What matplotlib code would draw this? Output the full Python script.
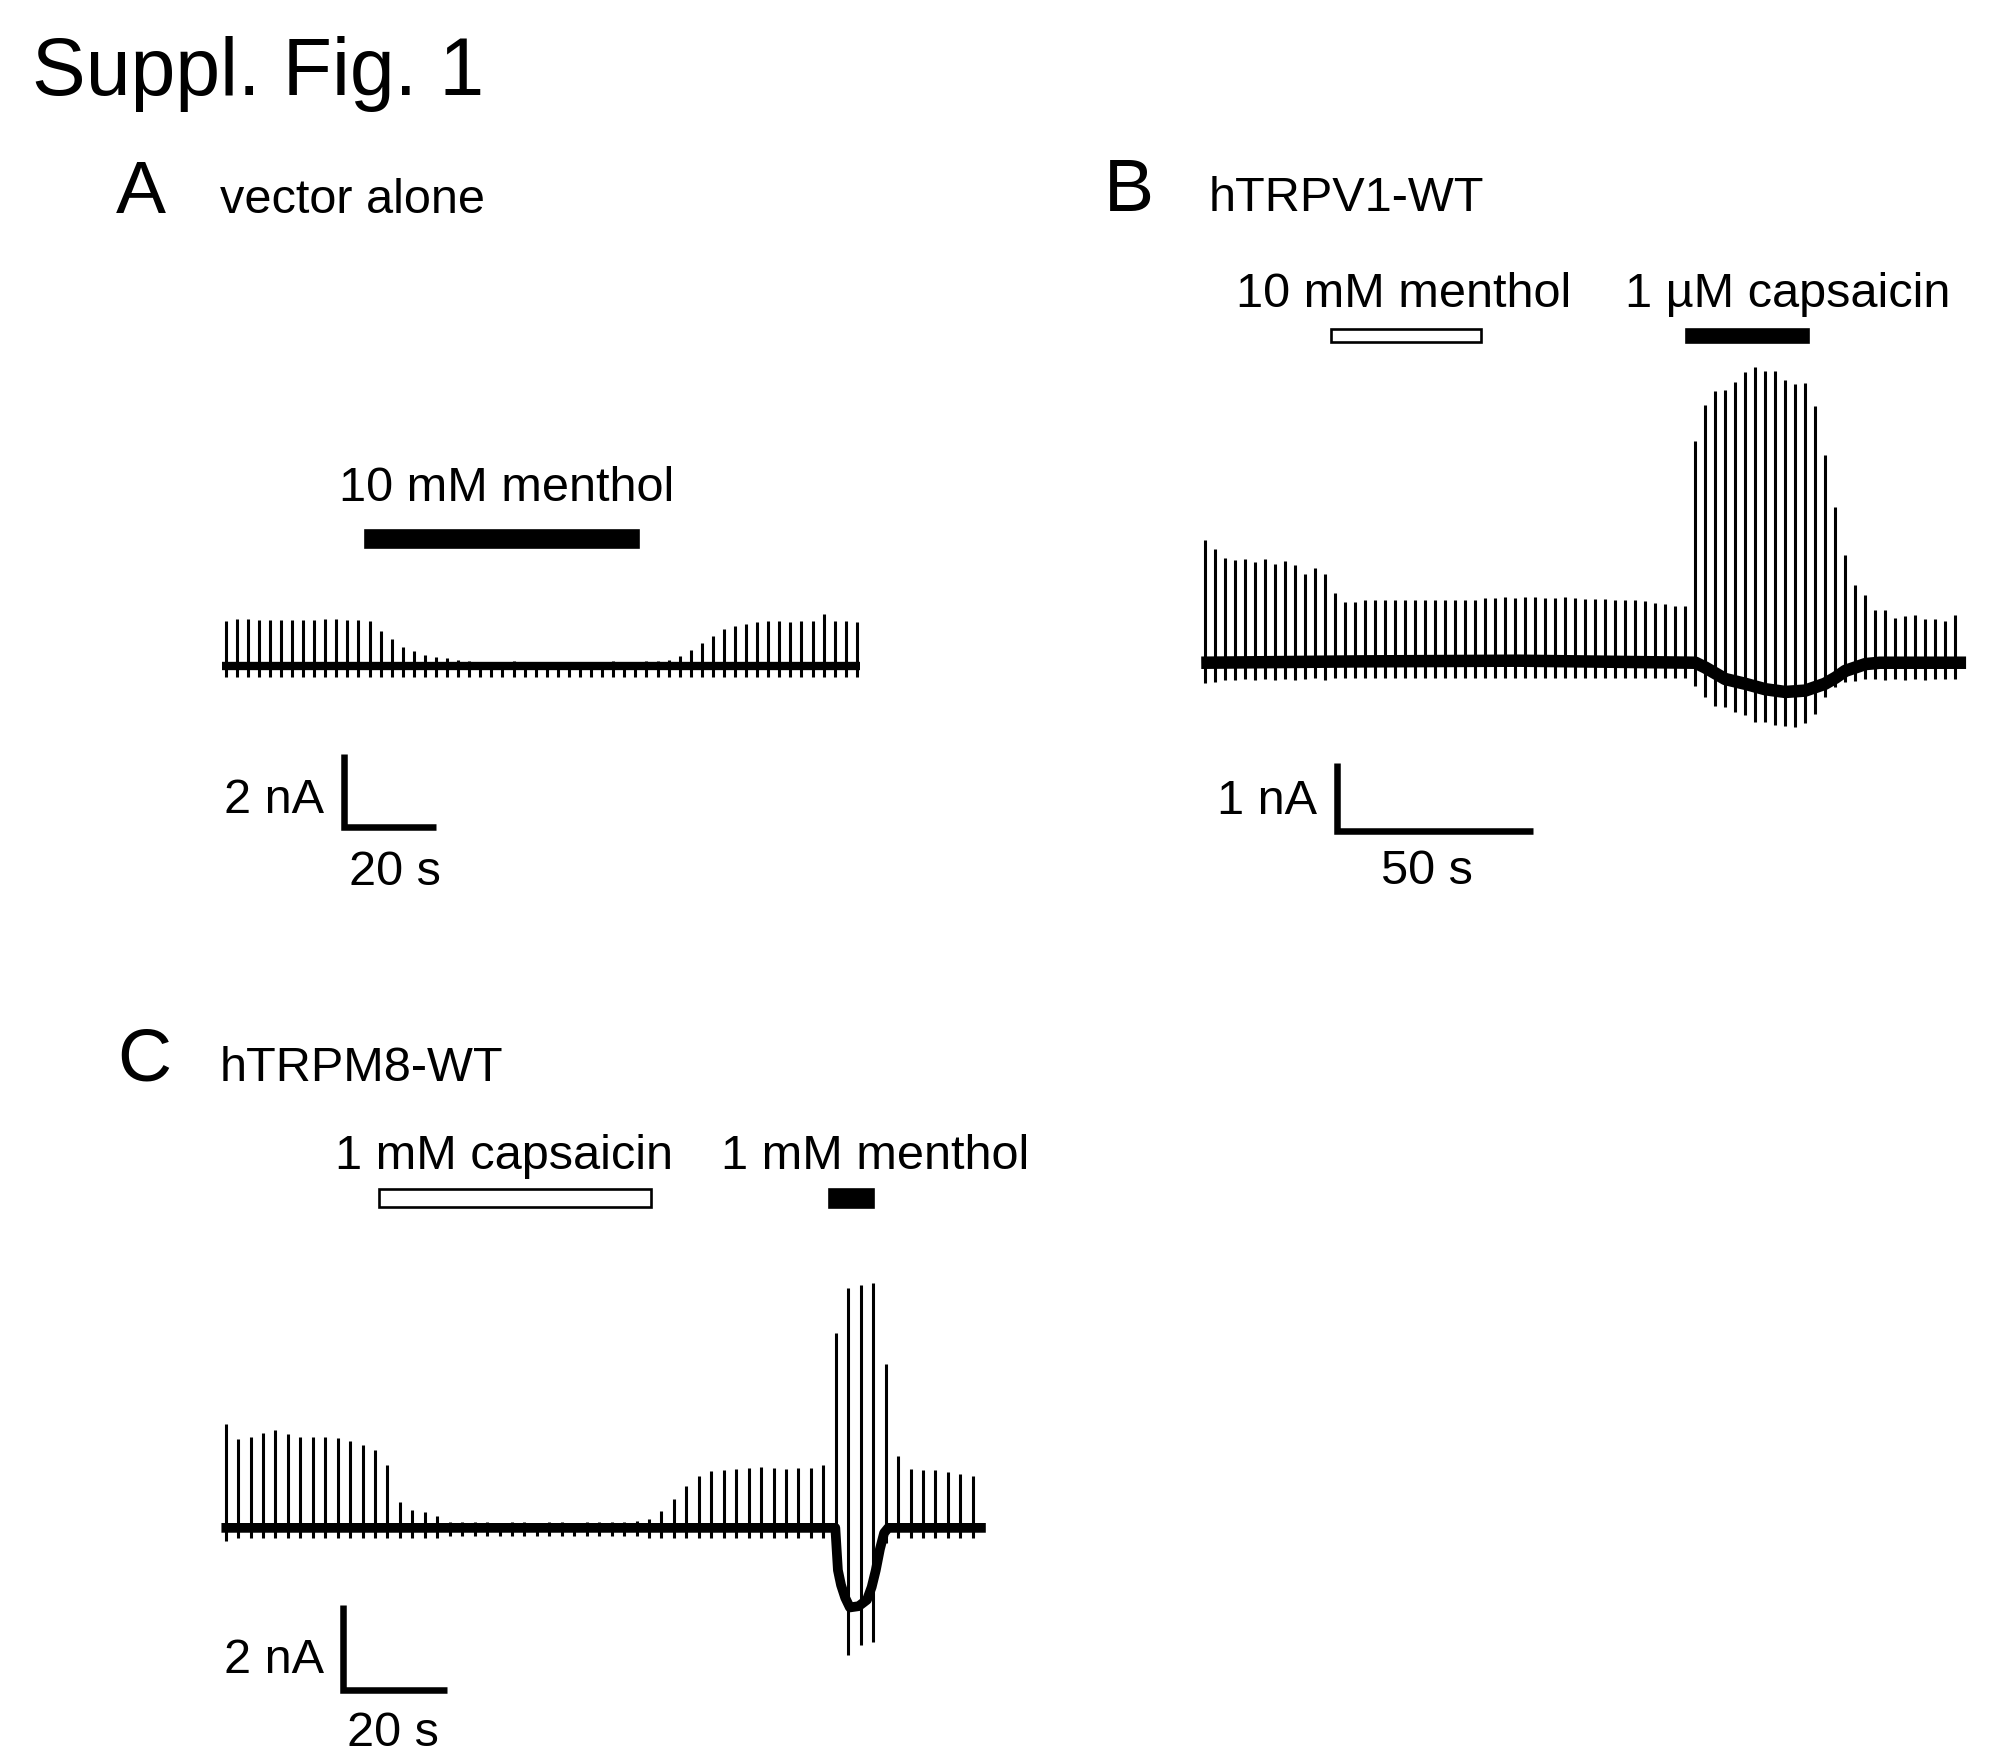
import numpy as np
import matplotlib
matplotlib.use("Agg")
import matplotlib.pyplot as plt
from matplotlib.patches import Rectangle

plt.rcParams['font.family'] = ['Liberation Sans', 'DejaVu Sans']

W, H = 2008, 1764
S = 0.996  # small correction of the pixel layout

# ---- panel A: vector alone, 10 mM menthol ----
A_period = 2.4  # s between voltage ramps
A_top = [1.25, 1.3, 1.3, 1.28, 1.28, 1.27, 1.28, 1.28, 1.27, 1.3, 1.3, 1.28, 1.28, 1.25,
         0.98, 0.75, 0.54, 0.41, 0.32, 0.26, 0.22, 0.17,
         0.14, 0.12, 0.13, 0.12, 0.14, 0.12, 0.11, 0.13, 0.12, 0.11, 0.12, 0.13, 0.12, 0.14,
         0.12, 0.13, 0.15, 0.14,
         0.17, 0.29, 0.46, 0.64, 0.83, 1.03, 1.11, 1.16,
         1.22, 1.23, 1.24, 1.22, 1.23, 1.23, 1.42, 1.24, 1.23, 1.22]
A_bot = -0.3
A_base_t = [-0.8, 137.5]
A_base_v = [0, 0]
A_drugs = [("10 mM menthol", 30.3, 89.4, True)]

# ---- panel B: hTRPV1-WT ----
B_period = 2.55
B_top = [1.80, 1.68, 1.54, 1.51, 1.53, 1.48, 1.53, 1.46, 1.50, 1.44, 1.30, 1.39, 1.31,
         1.02, 0.90, 0.90, 0.92, 0.92, 0.92, 0.92, 0.92, 0.93, 0.92, 0.92, 0.93, 0.92, 0.93, 0.93,
         0.95, 0.96, 0.97, 0.95, 0.97, 0.97, 0.96, 0.96, 0.97, 0.96, 0.94, 0.94, 0.94, 0.93,
         0.92, 0.92, 0.91, 0.88, 0.86, 0.84, 0.83,
         3.26, 3.79, 4.00, 4.02, 4.14, 4.28, 4.36, 4.30, 4.30, 4.16, 4.10, 4.12, 3.78, 3.06,
         2.29, 1.59, 1.15, 1.00,
         0.78, 0.78, 0.66, 0.69, 0.70, 0.65, 0.64, 0.62, 0.71]
B_bot = [-0.30, -0.28, -0.25, -0.25, -0.24, -0.25, -0.24, -0.25, -0.24, -0.25, -0.24, -0.23, -0.25,
         -0.22, -0.22, -0.22, -0.22, -0.22, -0.22, -0.22, -0.22, -0.22, -0.22, -0.22, -0.22,
         -0.22, -0.22, -0.22, -0.22, -0.22, -0.22, -0.22, -0.22, -0.22, -0.22, -0.22, -0.22,
         -0.22, -0.22, -0.22, -0.22, -0.22, -0.22, -0.22, -0.22, -0.22, -0.22, -0.22, -0.22,
         -0.34, -0.51, -0.64, -0.65, -0.72, -0.77, -0.87, -0.87, -0.92, -0.93, -0.94, -0.88,
         -0.75, -0.51, -0.35, -0.29, -0.27, -0.24,
         -0.24, -0.25, -0.24, -0.25, -0.24, -0.25, -0.24, -0.24, -0.24]
B_base_t = [-1, 40, 80, 125, 127.5, 132.6, 137.7, 142.8, 147.9, 153, 158, 160.7, 163.2, 168.3, 172, 194]
B_base_v = [0, 0.02, 0.03, 0, -0.07, -0.24, -0.31, -0.39, -0.43, -0.41, -0.31, -0.22, -0.12, -0.02, 0, 0]
B_drugs = [("10 mM menthol", 32.0, 70.3, False), ("1 µM capsaicin", 122.5, 153.6, True)]

# ---- panel C: hTRPM8-WT ----
C_period = 2.4
C_top = [2.45, 2.09, 2.15, 2.25, 2.31, 2.21, 2.15, 2.15, 2.15, 2.12, 2.06, 1.96, 1.84, 1.49,
         0.62, 0.42, 0.38, 0.29,
         0.14, 0.15, 0.13, 0.14, 0.12, 0.13, 0.14, 0.12, 0.13, 0.14, 0.12, 0.15, 0.13, 0.14,
         0.15, 0.16, 0.20,
         0.40, 0.68, 1.00, 1.23, 1.35, 1.37, 1.38, 1.41, 1.44, 1.41, 1.38, 1.42, 1.42, 1.48,
         4.60, 5.67, 5.73, 5.79, 3.87, 1.69, 1.38, 1.36, 1.36, 1.31, 1.28, 1.23]
C_bot = [-0.3, -0.25, -0.25, -0.25, -0.25, -0.25, -0.25, -0.25, -0.25, -0.25, -0.25, -0.25,
         -0.25, -0.25, -0.25, -0.25, -0.25, -0.25, -0.2, -0.2, -0.2, -0.2, -0.2, -0.2, -0.2,
         -0.2, -0.2, -0.2, -0.2, -0.2, -0.2, -0.2, -0.2, -0.2, -0.25, -0.25, -0.25, -0.25,
         -0.25, -0.25, -0.25, -0.25, -0.25, -0.25, -0.25, -0.25, -0.25, -0.25, -0.25,
         -1.2, -3.0, -2.77, -2.69, -0.35, -0.25, -0.25, -0.25, -0.25, -0.25, -0.25, -0.25]
C_base_t = [-0.8, 117.5, 118.0, 118.6, 119.4, 120.3, 122.0, 123.6, 124.5, 125.3, 126.1, 126.9, 127.7, 146.5]
C_base_v = [0, 0, -1.0, -1.35, -1.65, -1.88, -1.85, -1.7, -1.4, -1.0, -0.5, -0.12, 0, 0]
C_drugs = [("1 mM capsaicin", 29.6, 82.0, False), ("1 mM menthol", 116.3, 124.7, True)]


fig = plt.figure(figsize=(W / 100, H / 100), dpi=100)


def make_ax(box, x0, y0, pps, ppn):
    # box = left, right, top, bottom in pixels; x0/y0 pixel of t=0 / 0 nA
    l, r, t, b = [v * S for v in box]
    x0, y0, pps, ppn = x0 * S, y0 * S, pps * S, ppn * S
    ax = fig.add_axes([l / W, 1 - b / H, (r - l) / W, (b - t) / H])
    ax.set_xlim((l - x0) / pps, (r - x0) / pps)
    ax.set_ylim((y0 - b) / ppn, (y0 - t) / ppn)
    ax.axis('off')
    return ax


def draw_trace(ax, period, top, bot, base_t, base_v, band):
    ts = np.arange(len(top)) * period
    ax.plot(base_t, base_v, color='black', lw=band, solid_capstyle='butt')
    ax.vlines(ts, bot, top, color='black', lw=2.2)


def draw_drugs(ax, drugs, y_lo, y_hi, label_y, label_x):
    for (name, t0, t1, filled), lx in zip(drugs, label_x):
        ax.add_patch(Rectangle((t0, y_lo), t1 - t0, y_hi - y_lo,
                               facecolor='black' if filled else 'white',
                               edgecolor='black', lw=1.9))
        ax.text(lx, label_y, name, ha='center', va='baseline', fontsize=35)


def draw_scale(ax, t0, v0, dt, dv, vlabel, tlabel, vl_pos, tl_pos):
    ax.plot([t0, t0, t0 + dt], [v0 + dv, v0, v0], color='black', lw=4.7,
            solid_joinstyle='miter', solid_capstyle='butt')
    ax.text(vl_pos[0], vl_pos[1], vlabel, ha='right', va='baseline', fontsize=35)
    ax.text(tl_pos[0], tl_pos[1], tlabel, ha='center', va='baseline', fontsize=35)


# panel A
axA = make_ax((150, 950, 430, 920), 226.5, 669, 4.633, 36.7)
draw_trace(axA, A_period, A_top, A_bot, A_base_t, A_base_v, 6)
draw_drugs(axA, A_drugs, 3.26, 3.72, 4.53, [60.8])
draw_scale(axA, 25.6, -4.39, 20, 2, "2 nA", "20 s", (21.4, -4.0), (36.7, -5.97))

# panel B
axB = make_ax((1150, 2000, 260, 920), 1210, 665.4, 3.938, 68.2)
draw_trace(axB, B_period, B_top, B_bot, B_base_t, B_base_v, 9)
draw_drugs(axB, B_drugs, 4.72, 4.92, 5.23, [50.7, 148.4])
draw_scale(axB, 33.7, -2.47, 50, 1, "1 nA", "50 s", (28.4, -2.23), (56.5, -3.26))

# panel C
axC = make_ax((150, 1100, 1100, 1764), 226.5, 1534, 5.21, 42.5)
draw_trace(axC, C_period, C_top, C_bot, C_base_t, C_base_v, 7)
draw_drugs(axC, C_drugs, 7.58, 8.0, 8.48, [53.6, 125.2])
draw_scale(axC, 22.7, -3.82, 20, 2, "2 nA", "20 s", (19.0, -3.42), (32.3, -5.15))

# titles and panel letters
fig.text(32 * S / W, 1 - 95 * S / H, "Suppl. Fig. 1", fontsize=58, va='baseline')
for letter, name, lx, nx, by in [("A", "vector alone", 116, 221, 214),
                                 ("B", "hTRPV1-WT", 1108, 1213, 212),
                                 ("C", "hTRPM8-WT", 118, 221, 1085)]:
    fig.text(lx * S / W, 1 - by * S / H, letter, fontsize=54, va='baseline')
    fig.text(nx * S / W, 1 - by * S / H, name, fontsize=35, va='baseline')

fig.savefig("out.png", dpi=100, facecolor='white')
